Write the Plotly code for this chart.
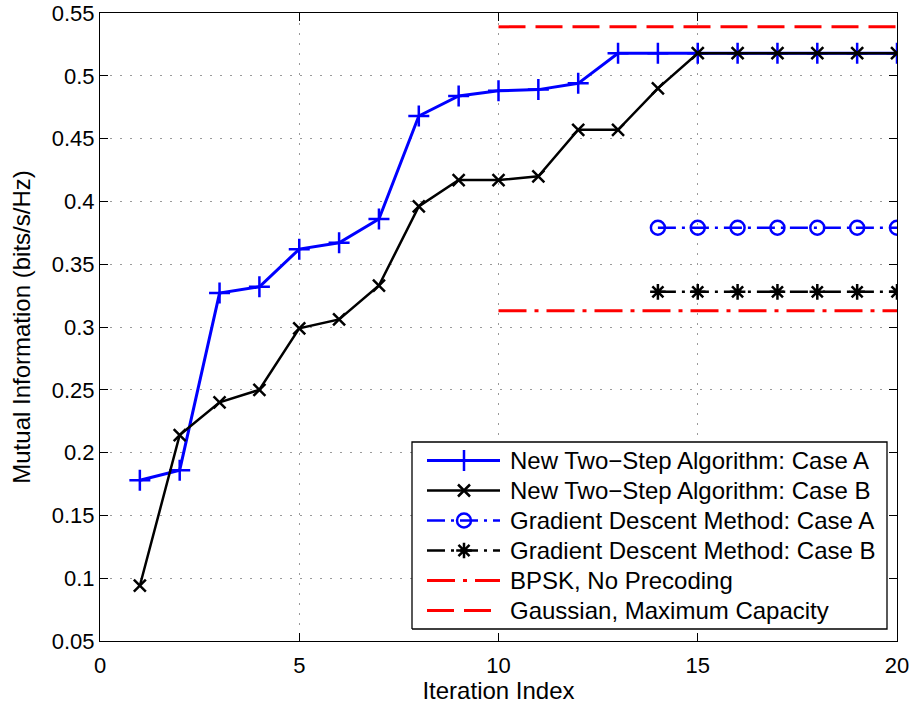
import plotly.graph_objects as go

iters = list(range(1, 21))
new_case_a = [0.178, 0.186, 0.327, 0.332, 0.362, 0.367, 0.386, 0.468, 0.484, 0.488,
              0.489, 0.494, 0.518, 0.518, 0.518, 0.518, 0.518, 0.518, 0.518, 0.518]
new_case_b = [0.094, 0.214, 0.240, 0.250, 0.299, 0.306, 0.333, 0.396, 0.417, 0.417,
              0.420, 0.457, 0.457, 0.490, 0.518, 0.518, 0.518, 0.518, 0.518, 0.518]
gd_iters = list(range(14, 21))
gd_case_a = [0.379] * 7
gd_case_b = [0.328] * 7
ref_iters = [10, 20]
bpsk = [0.313, 0.313]
gaussian = [0.539, 0.539]

series_names = ["New Two\u2212Step Algorithm: Case A",
                "New Two\u2212Step Algorithm: Case B",
                "Gradient Descent Method: Case A",
                "Gradient Descent Method: Case B",
                "BPSK, No Precoding",
                "Gaussian, Maximum Capacity"]

xticks = [0, 5, 10, 15, 20]
yticks = [0.05, 0.1, 0.15, 0.2, 0.25, 0.3, 0.35, 0.4, 0.45, 0.5, 0.55]
yticktext = ["0.05", "0.1", "0.15", "0.2", "0.25", "0.3", "0.35", "0.4", "0.45", "0.5", "0.55"]

BLUE = "rgb(0,0,255)"
RED = "rgb(255,0,0)"
BLACK = "rgb(0,0,0)"
FONT = "Liberation Sans, Arial, sans-serif"
DASHDOT_SMALL = "18px,6px,3px,6px"
DASHDOT_RED = "28px,8px,4px,8px"
DASH_RED = "27px,10px"

styles = [
    dict(line=dict(color=BLUE, width=3),
         marker=dict(symbol="cross-thin-open", size=15, color=BLUE,
                     line=dict(color=BLUE, width=2.5))),
    dict(line=dict(color=BLACK, width=2.5),
         marker=dict(symbol="x-thin-open", size=12, color=BLACK,
                     line=dict(color=BLACK, width=2.5))),
    dict(line=dict(color=BLUE, width=2.5, dash=DASHDOT_SMALL),
         marker=dict(symbol="circle-open", size=14, color=BLUE,
                     line=dict(color=BLUE, width=2.5))),
    dict(line=dict(color=BLACK, width=2.5, dash=DASHDOT_SMALL),
         marker=dict(symbol="asterisk-open", size=13, color=BLACK,
                     line=dict(color=BLACK, width=2.5))),
    dict(line=dict(color=RED, width=3, dash=DASHDOT_RED)),
    dict(line=dict(color=RED, width=3, dash=DASH_RED)),
]
data_x = [iters, iters, gd_iters, gd_iters, ref_iters, ref_iters]
data_y = [new_case_a, new_case_b, gd_case_a, gd_case_b, bpsk, gaussian]

fig = go.Figure()
for i in range(6):
    mode = "lines+markers" if "marker" in styles[i] else "lines"
    fig.add_trace(go.Scatter(x=data_x[i], y=data_y[i], mode=mode, name=series_names[i],
                             showlegend=False, **styles[i]))

# ---- custom legend drawn on an overlay axis spanning the plot area (0..1 both ways)
PL, PR, PT, PB = 100, 897, 13, 641
W, H = float(PR - PL), float(PB - PT)
def fx(px):
    return (px - PL) / W
def fy(py):
    return (PB - py) / H

bx0, bx1, by0, by1 = fx(412), fx(887), fy(629), fy(442)
fig.add_trace(go.Scatter(x=[bx0, bx1, bx1, bx0, bx0], y=[by0, by0, by1, by1, by0],
                         xaxis="x2", yaxis="y2", mode="lines", fill="toself",
                         fillcolor="white", line=dict(color=BLACK, width=1.3),
                         showlegend=False, hoverinfo="skip"))
row_y = [460.5, 490.5, 520.5, 550.5, 580.5, 610.5]
for i in range(6):
    yy = fy(row_y[i])
    st = styles[i]
    fig.add_trace(go.Scatter(x=[fx(427), fx(500)], y=[yy, yy], xaxis="x2", yaxis="y2",
                             mode="lines", line=st["line"], showlegend=False, hoverinfo="skip"))
    if "marker" in st:
        fig.add_trace(go.Scatter(x=[fx(464)], y=[yy], xaxis="x2", yaxis="y2",
                                 mode="markers", marker=st["marker"],
                                 showlegend=False, hoverinfo="skip"))
    fig.add_annotation(x=fx(508), y=yy, xref="x2", yref="y2", text=series_names[i],
                       showarrow=False, xanchor="left", yanchor="middle",
                       font=dict(family=FONT, size=24, color=BLACK))

axis_common = dict(showline=True, linecolor=BLACK, linewidth=1, mirror="ticks",
                   ticks="inside", ticklen=8, tickcolor=BLACK, tickwidth=1,
                   showgrid=True, gridcolor="#9a9a9a", griddash="2px,8px", gridwidth=1,
                   zeroline=False, automargin=False,
                   tickfont=dict(family=FONT, size=22, color=BLACK))

fig.update_layout(
    width=915, height=704,
    margin=dict(l=PL, r=915 - PR, t=PT, b=704 - PB, autoexpand=False),
    paper_bgcolor="white", plot_bgcolor="white",
    font=dict(family=FONT, color=BLACK),
    showlegend=False,
    xaxis=dict(range=[0, 20], tickvals=xticks, ticktext=[str(v) for v in xticks],
               ticklabelstandoff=5,
               title=dict(text="Iteration Index", font=dict(family=FONT, size=24, color=BLACK),
                          standoff=5),
               **axis_common),
    yaxis=dict(range=[0.05, 0.55], tickvals=yticks, ticktext=yticktext,
               ticklabelstandoff=0,
               title=dict(text="Mutual Information (bits/s/Hz)",
                          font=dict(family=FONT, size=24, color=BLACK), standoff=14),
               **axis_common),
    xaxis2=dict(overlaying="x", range=[0, 1], visible=False, fixedrange=True,
                automargin=False),
    yaxis2=dict(overlaying="y", range=[0, 1], visible=False, fixedrange=True,
                automargin=False),
)

fig.write_html("out.html")
